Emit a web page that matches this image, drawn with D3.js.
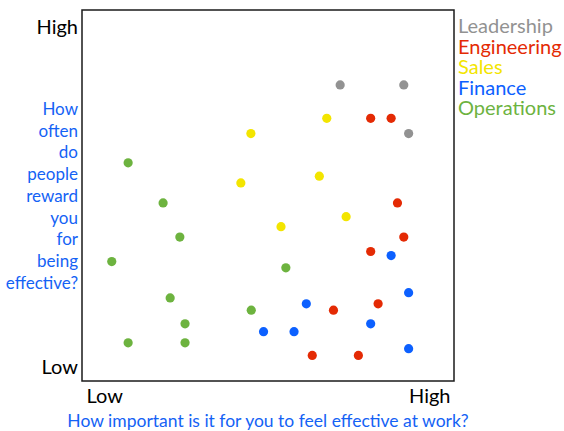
<!DOCTYPE html>
<html>
<head>
<meta charset="utf-8">
<script src="https://cdn.jsdelivr.net/npm/d3@7"></script>
<style>
  html, body { margin: 0; padding: 0; background: #fff; }
  svg { display: block; }
  text { font-family: Lato, "Open Sans", sans-serif; }
</style>
</head>
<body>
<svg id="chart" width="564" height="431"></svg>
<script>
// ---- Data ----
const seriesNames = ["Leadership", "Engineering", "Sales", "Finance", "Operations"];
const seriesColors = ["#929292", "#e42a04", "#f3e500", "#0c60ff", "#6db33f"];

// importance (x) and reward (y), 0-100 scale
const leadershipX = [69.4, 86.5, 87.8];
const leadershipY = [79.8, 79.8, 66.7];
const engineeringX = [77.6, 83.1, 84.8, 86.5, 77.6, 79.6, 67.6, 61.9, 74.3];
const engineeringY = [70.8, 70.8, 48.0, 38.8, 34.9, 20.8, 19.1, 6.9, 6.9];
const salesX = [65.8, 45.4, 42.7, 63.8, 71.0, 53.5];
const salesY = [70.8, 66.7, 53.4, 55.2, 44.3, 41.6];
const financeX = [83.1, 87.8, 60.3, 77.6, 48.8, 57.0, 87.8];
const financeY = [33.8, 23.8, 20.8, 15.4, 13.3, 13.3, 8.7];
const operationsX = [12.4, 21.8, 26.3, 8.0, 54.8, 23.7, 45.5, 27.7, 12.4, 27.7];
const operationsY = [58.8, 48.0, 38.8, 32.2, 30.5, 22.4, 19.1, 15.4, 10.3, 10.3];

const xTickLabels = ["Low", "High"];
const yTickLabels = ["Low", "High"];
const xTitle = "How important is it for you to feel effective at work?";
const yTitleLines = ["How", "often", "do", "people", "reward", "you", "for", "being", "effective?"];

const seriesX = [leadershipX, engineeringX, salesX, financeX, operationsX];
const seriesY = [leadershipY, engineeringY, salesY, financeY, operationsY];

// ---- Layout ----
const svg = d3.select("#chart");
const pLeft = 82, pRight = 454, pTop = 10, pBottom = 381;

const x = d3.scaleLinear().domain([0, 100]).range([pLeft, pRight]);
const y = d3.scaleLinear().domain([0, 100]).range([pBottom, pTop]);

// frame
svg.append("rect")
  .attr("x", pLeft).attr("y", pTop)
  .attr("width", pRight - pLeft).attr("height", pBottom - pTop)
  .attr("fill", "none").attr("stroke", "#1a1a1a").attr("stroke-width", 1.5);

// x axis tick labels (Low / High)
const xAxis = d3.axisBottom(x)
  .tickValues([0, 100])
  .tickSize(0)
  .tickFormat((d, i) => xTickLabels[i]);
const gx = svg.append("g").attr("transform", `translate(0,${pBottom})`).call(xAxis);
gx.select(".domain").remove();
gx.selectAll("text")
  .attr("font-family", "Lato, sans-serif")
  .attr("font-size", 20)
  .attr("fill", "#000")
  .attr("dy", null)
  .attr("y", 22)
  .attr("text-anchor", (d, i) => i === 0 ? "start" : "end")
  .attr("dx", (d, i) => i === 0 ? 4 : -4);

// y axis tick labels
const yAxis = d3.axisLeft(y)
  .tickValues([0, 100])
  .tickSize(0)
  .tickFormat((d, i) => yTickLabels[i]);
const gy = svg.append("g").attr("transform", `translate(${pLeft},0)`).call(yAxis);
gy.select(".domain").remove();
gy.selectAll("text")
  .attr("font-family", "Lato, sans-serif")
  .attr("font-size", 20)
  .attr("fill", "#000")
  .attr("x", -4)
  .attr("dy", (d, i) => i === 0 ? -8 : 23);

// x title
svg.append("text")
  .attr("x", (pLeft + pRight) / 2)
  .attr("y", 427)
  .attr("text-anchor", "middle")
  .attr("font-size", 17.5)
  .attr("fill", "#1462f5")
  .text(xTitle);

// y title (stacked lines)
svg.append("g").selectAll("text")
  .data(yTitleLines)
  .join("text")
  .attr("x", 78)
  .attr("y", (d, i) => 115 + i * 21.7)
  .attr("text-anchor", "end")
  .attr("font-size", 17)
  .attr("fill", "#1462f5")
  .text(d => d);

// points
seriesNames.forEach((name, s) => {
  svg.append("g").selectAll("circle")
    .data(seriesX[s].map((v, i) => [v, seriesY[s][i]]))
    .join("circle")
    .attr("cx", d => x(d[0]))
    .attr("cy", d => y(d[1]))
    .attr("r", 4.6)
    .attr("fill", seriesColors[s]);
});

// legend
svg.append("g").selectAll("text")
  .data(seriesNames)
  .join("text")
  .attr("x", 458)
  .attr("y", (d, i) => 33 + i * 20.6)
  .attr("font-size", 20)
  .attr("fill", (d, i) => seriesColors[i])
  .text(d => d);
</script>
</body>
</html>
